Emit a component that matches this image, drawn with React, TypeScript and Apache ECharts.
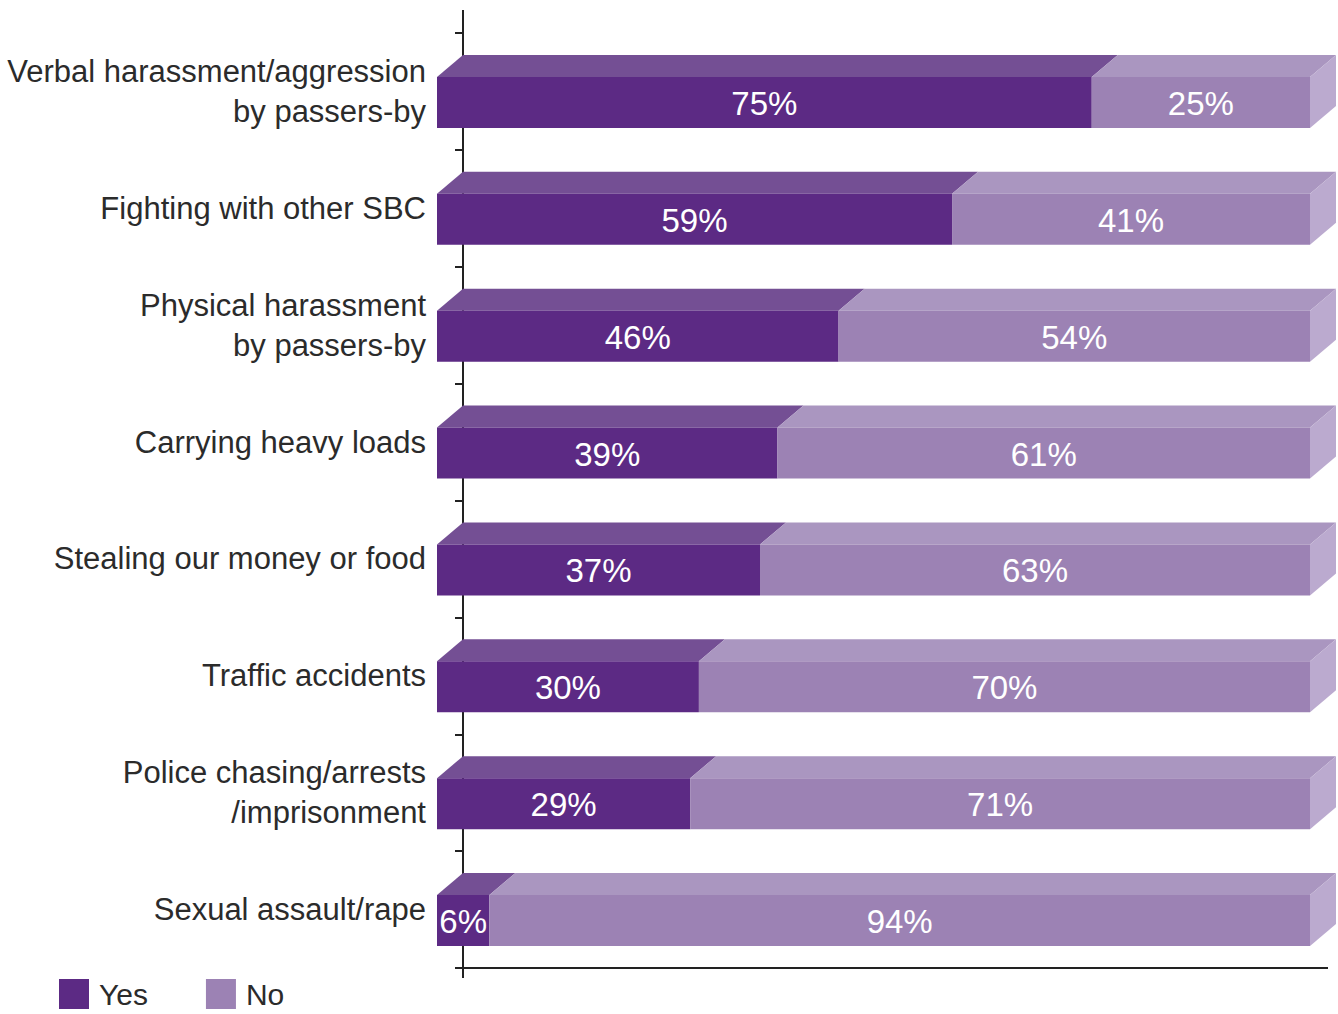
import React, { useEffect, useRef } from "react";
import * as echarts from "echarts";

const categories = [
  "Verbal harassment/aggression\nby passers-by",
  "Fighting with other SBC",
  "Physical harassment\nby passers-by",
  "Carrying heavy loads",
  "Stealing our money or food",
  "Traffic accidents",
  "Police chasing/arrests\n/imprisonment",
  "Sexual assault/rape",
];
const yesValues = [75, 59, 46, 39, 37, 30, 29, 6];
const noValues = [25, 41, 54, 61, 63, 70, 71, 94];

const YES_FRONT = "#5c2a84";
const YES_TOP = "#744f94";
const NO_FRONT = "#9c82b4";
const NO_TOP = "#aa96c0";
const SIDE = "#bbaacf";
const TEXT = "#2b2b2b";
const FONT = '"Liberation Sans", Arial, sans-serif';

const DX = 26;
const DY = 22;
const FRONT_H = 51;
const FRONT_OFFSET = 11;

function makeRender(frontColor: string, topColor: string, isLast: boolean) {
  return function (params: any, api: any) {
    const cat = api.value(0);
    const start = api.value(1);
    const end = api.value(2);
    const label = api.value(3);
    const p0 = api.coord([start, cat]);
    const p1 = api.coord([end, cat]);
    const c = p0[1];
    const bx0 = p0[0];
    const bx1 = p1[0];
    const fx0 = bx0 - DX;
    const fx1 = bx1 - DX;
    const fTop = c + FRONT_OFFSET - FRONT_H / 2;
    const children: any[] = [
      {
        type: "polygon",
        shape: { points: [[fx0, fTop], [bx0, fTop - DY], [bx1, fTop - DY], [fx1, fTop]] },
        style: { fill: topColor },
      },
      {
        type: "rect",
        shape: { x: fx0, y: fTop, width: fx1 - fx0, height: FRONT_H },
        style: { fill: frontColor },
      },
    ];
    if (isLast) {
      children.push({
        type: "polygon",
        shape: {
          points: [
            [fx1, fTop],
            [bx1, fTop - DY],
            [bx1, fTop - DY + FRONT_H],
            [fx1, fTop + FRONT_H],
          ],
        },
        style: { fill: SIDE },
      });
    }
    children.push({
      type: "text",
      style: {
        text: label + "%",
        x: (fx0 + fx1) / 2,
        y: fTop + FRONT_H / 2 + 1,
        fill: "#ffffff",
        fontSize: 33,
        fontFamily: FONT,
        align: "center",
        verticalAlign: "middle",
      },
    });
    return { type: "group", children };
  };
}

export default function App() {
  const ref = useRef<HTMLDivElement>(null);
  useEffect(() => {
    document.body.style.margin = "0";
    if (!ref.current) return;
    const chart = echarts.init(ref.current, null, { renderer: "svg" });
    const yesData = categories.map((_, i) => [i, 0, yesValues[i], yesValues[i]]);
    const noData = categories.map((_, i) => [
      i,
      yesValues[i],
      yesValues[i] + noValues[i],
      noValues[i],
    ]);
    chart.setOption({
      animation: false,
      backgroundColor: "#ffffff",
      grid: { left: 463, right: 2, top: 33, bottom: 46, containLabel: false },
      xAxis: {
        type: "value",
        min: 0,
        max: 100,
        axisLine: { show: false },
        axisTick: { show: false },
        axisLabel: { show: false },
        splitLine: { show: false },
      },
      yAxis: {
        type: "category",
        inverse: true,
        data: categories,
        axisLine: { show: true, lineStyle: { color: "#222", width: 2 } },
        axisTick: { show: true, length: 8, lineStyle: { color: "#222", width: 2 } },
        axisLabel: {
          margin: 37,
          fontSize: 31,
          lineHeight: 40,
          color: TEXT,
          fontFamily: FONT,
          align: "right",
        },
        splitLine: { show: false },
      },
      legend: {
        data: ["Yes", "No"],
        left: 59,
        top: 979,
        icon: "rect",
        itemWidth: 30,
        itemHeight: 30,
        itemGap: 58,
        padding: 0,
        textStyle: { fontSize: 30, color: TEXT, fontFamily: FONT, padding: [0, 0, 0, 5] },
      },
      graphic: [
        {
          type: "line",
          shape: { x1: 463, y1: 10, x2: 463, y2: 33 },
          style: { stroke: "#222", lineWidth: 2 },
        },
        {
          type: "line",
          shape: { x1: 463, y1: 968, x2: 463, y2: 978 },
          style: { stroke: "#222", lineWidth: 2 },
        },
        {
          type: "line",
          shape: { x1: 463, y1: 968, x2: 1328, y2: 968 },
          style: { stroke: "#222", lineWidth: 2 },
        },
      ],
      series: [
        {
          name: "Yes",
          type: "custom",
          renderItem: makeRender(YES_FRONT, YES_TOP, false),
          encode: { x: [1, 2], y: 0 },
          itemStyle: { color: YES_FRONT },
          data: yesData,
        },
        {
          name: "No",
          type: "custom",
          renderItem: makeRender(NO_FRONT, NO_TOP, true),
          encode: { x: [1, 2], y: 0 },
          itemStyle: { color: NO_FRONT },
          data: noData,
        },
      ],
    });
    return () => chart.dispose();
  }, []);
  return <div ref={ref} style={{ width: 1338, height: 1014 }} />;
}
